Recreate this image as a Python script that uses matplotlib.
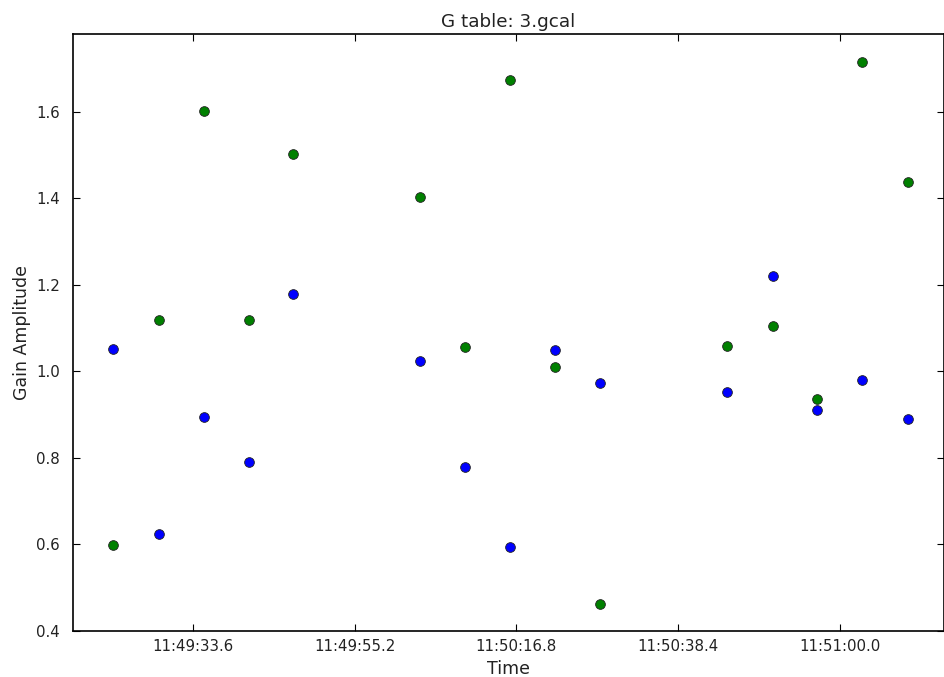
import numpy as np
import matplotlib
matplotlib.use('Agg')
import matplotlib.pyplot as plt
from matplotlib.ticker import FixedLocator, FuncFormatter

# time of each solution, seconds after 11:49:00
t_sec = [22.9, 29.0, 35.0, 41.0, 47.0, 63.9, 69.9, 76.0, 82.0, 88.0,
         105.0, 111.1, 117.0, 123.0, 129.1]
# gain amplitude, first and second polarisation
amp_pol1 = [1.051, 0.623, 0.895, 0.790, 1.179, 1.024, 0.779, 0.594, 1.049, 0.973,
            0.952, 1.220, 0.911, 0.981, 0.889]
amp_pol2 = [0.598, 1.118, 1.601, 1.118, 1.502, 1.403, 1.056, 1.674, 1.010, 0.462,
            1.058, 1.105, 0.937, 1.715, 1.438]

t0 = 11 * 3600 + 49 * 60
t = t0 + np.array(t_sec)


def hms(x, pos=None):
    h = int(x // 3600)
    m = int((x - h * 3600) // 60)
    s = x - h * 3600 - m * 60
    return '%02d:%02d:%04.1f' % (h, m, s)


fig = plt.figure(figsize=(9.44, 6.77), dpi=100)
ax = fig.add_axes([0.077, 0.068, 0.9225, 0.882])

ax.plot(t, amp_pol1, 'o', color='b', markersize=7, markeredgecolor='#222222', markeredgewidth=0.6)
ax.plot(t, amp_pol2, 'o', color='g', markersize=7, markeredgecolor='#222222', markeredgewidth=0.6)

ax.set_xlim(t0 + 17.5, t0 + 133.9)
ax.set_ylim(0.4, 1.78)
ax.xaxis.set_major_locator(FixedLocator(t0 + 33.6 + 21.6 * np.arange(5)))
ax.xaxis.set_major_formatter(FuncFormatter(hms))
ax.set_yticks([0.4, 0.6, 0.8, 1.0, 1.2, 1.4, 1.6])
ax.yaxis.set_major_formatter(FuncFormatter(lambda v, p: '%.1f' % v))

ax.tick_params(direction='in', top=True, right=True, length=5, width=0.8,
               labelsize=10.8, labelcolor='#222222')
ax.tick_params(axis='x', pad=6)
ax.tick_params(axis='y', pad=9)
for sp in ax.spines.values():
    sp.set_linewidth(1.2)

ax.set_title('G table: 3.gcal', fontsize=13.2, color='#222222', pad=5)
ax.set_xlabel('Time', fontsize=12.5, color='#222222', labelpad=4)
ax.set_ylabel('Gain Amplitude', fontsize=12.5, color='#222222', labelpad=4)

plt.savefig('out.png', dpi=100)
